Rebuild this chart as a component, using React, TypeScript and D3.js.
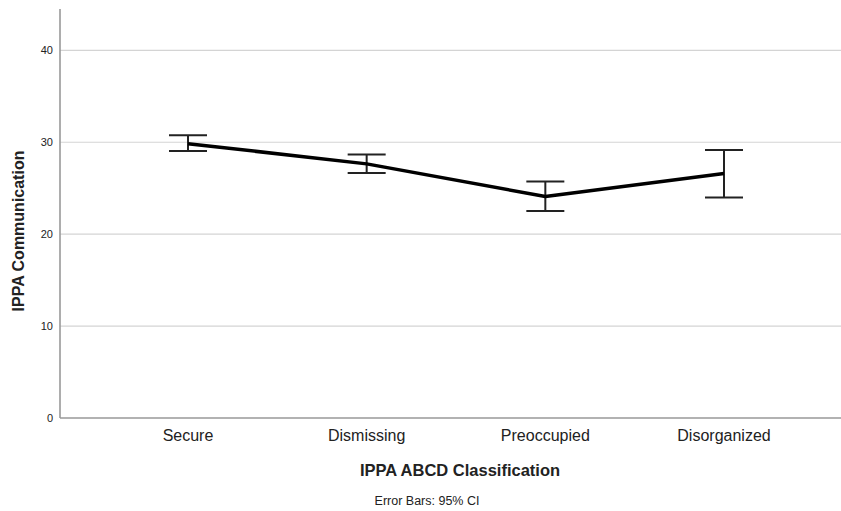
import React, { useEffect, useRef } from "react";
import * as d3 from "d3";

const categories = ["Secure", "Dismissing", "Preoccupied", "Disorganized"];
const means = [29.85, 27.65, 24.1, 26.6];
const ciLow = [29.05, 26.67, 22.53, 23.99];
const ciHigh = [30.76, 28.66, 25.73, 29.17];
const yTicks = [0, 10, 20, 30, 40];

const W = 841;
const H = 511;

export default function App() {
  const ref = useRef<SVGSVGElement>(null);

  useEffect(() => {
    const svg = d3.select(ref.current);
    svg.selectAll("*").remove();

    const font = "'Liberation Sans', Arial, sans-serif";
    const left = 60;

    const x = d3.scalePoint().domain(categories).range([188, 724]);
    const y = d3.scaleLinear().domain([0, 44.5]).range([418, 9]);

    // gridlines
    svg
      .append("g")
      .selectAll("line")
      .data(yTicks.filter((t) => t > 0))
      .join("line")
      .attr("x1", left)
      .attr("x2", W)
      .attr("y1", (d) => y(d))
      .attr("y2", (d) => y(d))
      .attr("stroke", "#d4d4d4")
      .attr("stroke-width", 1.2);

    // y tick labels
    svg
      .append("g")
      .selectAll("text")
      .data(yTicks)
      .join("text")
      .attr("x", 53)
      .attr("y", (d) => y(d))
      .attr("dy", "0.35em")
      .attr("text-anchor", "end")
      .style("font-family", font)
      .style("font-size", "11px")
      .attr("fill", "#222")
      .text((d) => d);

    // axes lines
    svg
      .append("line")
      .attr("x1", left)
      .attr("x2", left)
      .attr("y1", y(44.5))
      .attr("y2", y(0))
      .attr("stroke", "#999")
      .attr("stroke-width", 1.6);
    svg
      .append("line")
      .attr("x1", left)
      .attr("x2", W)
      .attr("y1", y(0))
      .attr("y2", y(0))
      .attr("stroke", "#999")
      .attr("stroke-width", 1.6);

    // category labels
    svg
      .append("g")
      .selectAll("text")
      .data(categories)
      .join("text")
      .attr("x", (d) => x(d)!)
      .attr("y", 441)
      .attr("text-anchor", "middle")
      .style("font-family", font)
      .style("font-size", "16px")
      .attr("fill", "#222")
      .text((d) => d);

    // error bars
    const eb = svg.append("g").attr("stroke", "#222").attr("stroke-width", 2);
    categories.forEach((c, i) => {
      const cx = x(c)!;
      eb.append("line")
        .attr("x1", cx)
        .attr("x2", cx)
        .attr("y1", y(ciLow[i]))
        .attr("y2", y(ciHigh[i]));
      [ciLow[i], ciHigh[i]].forEach((v) => {
        eb.append("line")
          .attr("x1", cx - 19)
          .attr("x2", cx + 19)
          .attr("y1", y(v))
          .attr("y2", y(v));
      });
    });

    // mean line
    const line = d3
      .line<number>()
      .x((d, i) => x(categories[i])!)
      .y((d) => y(d));
    svg
      .append("path")
      .attr("d", line(means))
      .attr("fill", "none")
      .attr("stroke", "#000")
      .attr("stroke-width", 3.5)
      .attr("stroke-linejoin", "round");

    // titles
    svg
      .append("text")
      .attr("transform", "translate(24,231) rotate(-90)")
      .attr("text-anchor", "middle")
      .style("font-family", font)
      .style("font-size", "16px")
      .style("font-weight", "bold")
      .attr("fill", "#222")
      .text("IPPA Communication");

    svg
      .append("text")
      .attr("x", 460)
      .attr("y", 476)
      .attr("text-anchor", "middle")
      .style("font-family", font)
      .style("font-size", "16.5px")
      .style("font-weight", "bold")
      .attr("fill", "#222")
      .text("IPPA ABCD Classification");

    svg
      .append("text")
      .attr("x", 427)
      .attr("y", 505)
      .attr("text-anchor", "middle")
      .style("font-family", font)
      .style("font-size", "12.5px")
      .attr("fill", "#222")
      .text("Error Bars: 95% CI");
  }, []);

  return (
    <svg
      ref={ref}
      width={W}
      height={H}
      style={{ position: "absolute", left: 0, top: 0, background: "#fff" }}
    ></svg>
  );
}
